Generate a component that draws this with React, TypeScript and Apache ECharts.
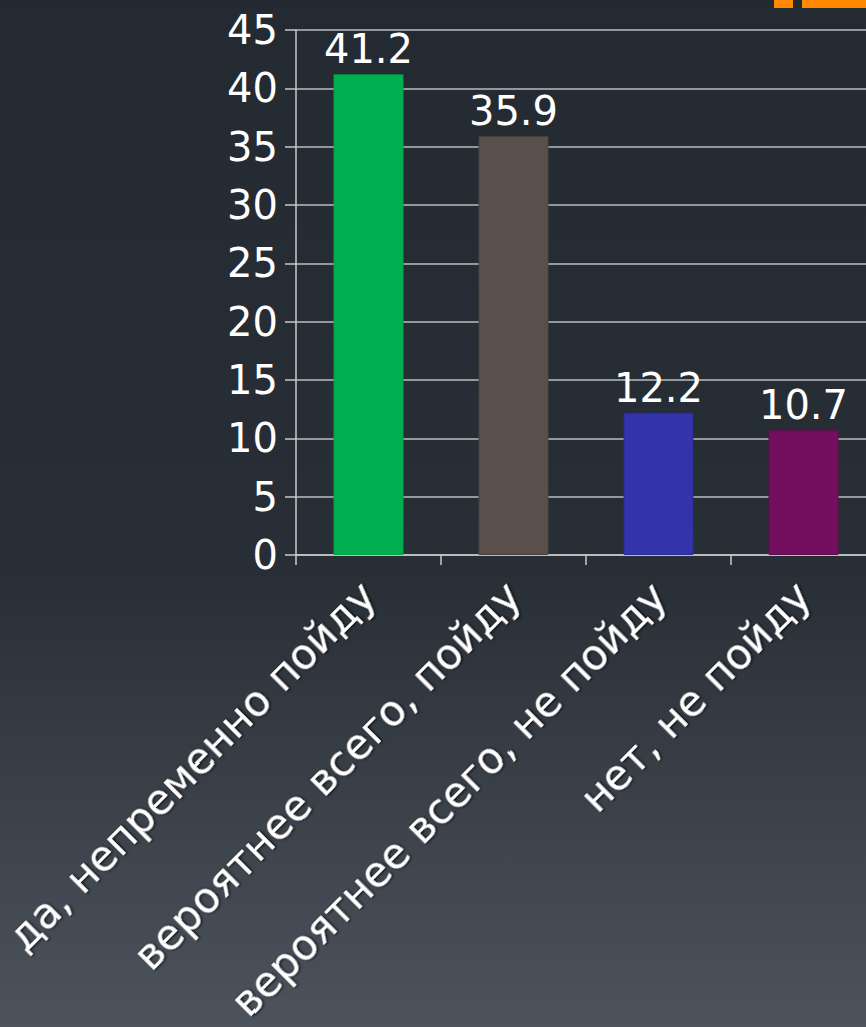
import React, { useEffect, useRef } from "react";
import * as echarts from "echarts";

const categories = [
  "да, непременно пойду",
  "вероятнее всего, пойду",
  "вероятнее всего, не пойду",
  "нет, не пойду",
];
const values = [41.2, 35.9, 12.2, 10.7];
const barColors = ["#00b050", "#5a504b", "#3333aa", "#730f5e"];
const barBorders = ["#00a048", "#4a423e", "#2a2a95", "#620c50"];
const yTicks = { min: 0, max: 45, interval: 5 };

export default function App() {
  const ref = useRef<HTMLDivElement>(null);
  useEffect(() => {
    if (!ref.current) return;
    const chart = echarts.init(ref.current, undefined, { renderer: "svg" });
    const font = "DejaVu Sans";
    chart.setOption({
      animation: false,
      backgroundColor: {
        type: "linear",
        x: 0,
        y: 0,
        x2: 0,
        y2: 1,
        colorStops: [
          { offset: 0, color: "#242a31" },
          { offset: 0.55, color: "#282e35" },
          { offset: 1, color: "#4c535c" },
        ],
      },
      grid: {
        left: 296,
        top: 30,
        bottom: 472,
        right: 0,
        containLabel: false,
        outerBoundsMode: "none",
      },
      xAxis: {
        type: "category",
        data: categories,
        boundaryGap: true,
        axisLine: { show: true, lineStyle: { color: "#c8c8c8", width: 1.5 } },
        axisTick: { show: true, length: 10, lineStyle: { color: "#c8c8c8", width: 1.5 } },
        axisLabel: {
          interval: 0,
          rotate: 45,
          margin: 34,
          verticalAlign: "middle",
          align: "right",
          lineHeight: 18,
          color: "#ffffff",
          fontFamily: font,
          fontSize: 42,
          textShadowColor: "rgba(0,0,0,0.85)",
          textShadowBlur: 3,
          textShadowOffsetX: 1,
          textShadowOffsetY: 1,
        },
      },
      yAxis: {
        type: "value",
        min: yTicks.min,
        max: yTicks.max,
        interval: yTicks.interval,
        axisLine: { show: true, lineStyle: { color: "#c8c8c8", width: 1.5 } },
        axisTick: { show: true, length: 11, lineStyle: { color: "#c8c8c8", width: 1.5 } },
        splitLine: { show: true, lineStyle: { color: "#bdbdbd", width: 1.5 } },
        axisLabel: {
          margin: 18,
          color: "#ffffff",
          fontFamily: font,
          fontSize: 40,
        },
      },
      series: [
        {
          type: "bar",
          barWidth: 70,
          data: values.map((v, i) => ({
            value: v,
            itemStyle: { color: barColors[i], borderColor: barBorders[i], borderWidth: 1 },
          })),
          label: {
            show: true,
            position: "top",
            distance: 5,
            color: "#ffffff",
            fontFamily: font,
            fontSize: 40,
            formatter: (p: any) => p.value.toFixed(1),
          },
        },
      ],
      graphic: [
        { type: "rect", shape: { x: 774, y: 0, width: 19, height: 8 }, style: { fill: "#ff8800" } },
        { type: "rect", shape: { x: 802, y: 0, width: 64, height: 8 }, style: { fill: "#ff8800" } },
      ],
    });
    return () => chart.dispose();
  }, []);
  return (
    <div style={{ position: "absolute", left: 0, top: 0, width: 866, height: 1027, overflow: "hidden" }}>
      <div ref={ref} style={{ width: 876, height: 1027 }} />
    </div>
  );
}
